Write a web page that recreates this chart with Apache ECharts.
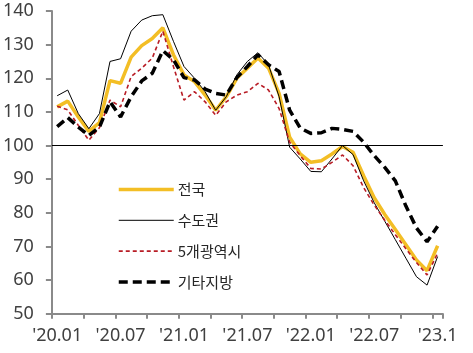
<!DOCTYPE html>
<html>
<head>
<meta charset="utf-8">
<script src="https://cdn.jsdelivr.net/npm/echarts@6/dist/echarts.min.js"></script>
<style>
  html, body { margin: 0; padding: 0; background: #fff; }
  #chart { width: 473px; height: 353px; }
</style>
</head>
<body>
<div id="chart"></div>
<script>
const months = [
  "'20.01","'20.02","'20.03","'20.04","'20.05","'20.06","'20.07","'20.08","'20.09","'20.10","'20.11","'20.12",
  "'21.01","'21.02","'21.03","'21.04","'21.05","'21.06","'21.07","'21.08","'21.09","'21.10","'21.11","'21.12",
  "'22.01","'22.02","'22.03","'22.04","'22.05","'22.06","'22.07","'22.08","'22.09","'22.10","'22.11","'22.12",
  "'23.1"
];
const seriesNames = ['전국', '수도권', '5개광역시', '기타지방'];
const national = [
  111.5, 113.2, 108.5, 104.2, 106.8, 119.3, 118.5, 126.3, 129.7, 131.8, 135.0, 127.0,
  121.0, 119.0, 115.0, 110.5, 114.5, 120.0, 123.0, 126.0, 123.0, 115.5, 102.5, 97.5,
  95.0, 95.5, 97.5, 99.7, 98.0, 91.0, 84.5, 79.5, 75.0, 70.5, 66.0, 62.8,
  70.2
];
const capital = [
  114.8, 116.5, 109.5, 105.0, 109.5, 125.0, 125.8, 134.0, 137.3, 138.6, 138.9, 131.0,
  123.5, 120.0, 116.0, 110.5, 114.5, 121.0, 125.0, 127.6, 124.0, 114.5, 99.5, 96.0,
  92.3, 92.2, 96.0, 100.0, 97.3, 89.5, 83.0, 77.5, 72.0, 66.5, 61.0, 58.5,
  67.0
];
const metro = [
  111.7, 110.6, 106.0, 101.6, 105.3, 113.5, 111.5, 120.5, 123.0, 126.0, 134.0, 123.5,
  113.5, 116.0, 113.0, 109.0, 113.0, 115.0, 116.0, 118.5, 116.5, 111.0, 101.0, 97.0,
  93.2, 93.0, 95.0, 97.2, 94.0, 87.5, 82.3, 77.8, 73.5, 69.3, 65.2, 61.5,
  68.0
];
const others = [
  105.6, 108.3, 105.5, 103.0, 105.5, 113.0, 108.5, 114.5, 119.2, 121.5, 128.2, 125.5,
  120.2, 119.5, 116.8, 115.5, 115.0, 120.2, 123.5, 127.0, 124.0, 122.0, 110.5, 105.2,
  103.6, 103.8, 105.1, 104.8, 104.2, 101.0, 97.0, 93.5, 89.5, 82.0, 75.5, 71.4,
  76.0
];
const baseLine = 100;

const axisColor = '#8a8a8a';
const labelColor = '#404040';
const chart = echarts.init(document.getElementById('chart'), null, { renderer: 'canvas' });
chart.setOption({
  animation: false,
  backgroundColor: '#ffffff',
  grid: { left: 51.7, right: 30.1, top: 11, bottom: 39.3, containLabel: false },
  legend: {
    orient: 'vertical',
    left: 117,
    top: 182,
    padding: 0,
    itemWidth: 55,
    itemHeight: 15,
    itemGap: 15.8,
    selectedMode: false,
    itemStyle: { opacity: 0 },
    lineStyle: { width: 'inherit' },
    textStyle: { fontSize: 15, color: '#262626', fontFamily: 'Noto Sans CJK KR', padding: [0, 0, 0, -1] },
    data: seriesNames
  },
  xAxis: {
    type: 'category',
    data: months,
    boundaryGap: true,
    axisLine: { lineStyle: { color: axisColor, width: 2 } },
    axisTick: { show: true, interval: 2, alignWithLabel: false, length: 5, lineStyle: { color: axisColor, width: 2 } },
    axisLabel: { interval: 5, margin: 13, fontSize: 18, color: labelColor, fontFamily: 'Noto Sans' },
    splitLine: { show: false }
  },
  yAxis: {
    type: 'value',
    min: 50,
    max: 140,
    interval: 10,
    axisLine: { show: true, lineStyle: { color: axisColor, width: 2 } },
    axisTick: { show: true, length: 6, lineStyle: { color: axisColor, width: 2 } },
    axisLabel: { margin: 18, fontSize: 18, color: labelColor, fontFamily: 'Noto Sans' },
    splitLine: { show: false }
  },
  series: [
    {
      name: seriesNames[0], type: 'line', data: national, symbol: 'none', showSymbol: false,
      lineStyle: { color: '#F3BE25', width: 3.5 }, itemStyle: { color: '#F3BE25' }, z: 2
    },
    {
      name: seriesNames[1], type: 'line', data: capital, symbol: 'none', showSymbol: false,
      lineStyle: { color: '#000000', width: 1 }, itemStyle: { color: '#000000' }, z: 3,
      markLine: {
        silent: true, symbol: ['none', 'none'], label: { show: false },
        lineStyle: { color: '#000000', width: 1, type: 'solid' },
        emphasis: { disabled: true },
        data: [{ yAxis: baseLine }]
      }
    },
    {
      name: seriesNames[2], type: 'line', data: metro, symbol: 'none', showSymbol: false,
      lineStyle: { color: '#B81C25', width: 1.6, type: [4, 3] }, itemStyle: { color: '#B81C25' }, z: 4
    },
    {
      name: seriesNames[3], type: 'line', data: others, symbol: 'none', showSymbol: false,
      lineStyle: { color: '#000000', width: 3.5, type: [9, 5] }, itemStyle: { color: '#000000' }, z: 5
    }
  ]
});
</script>
</body>
</html>
